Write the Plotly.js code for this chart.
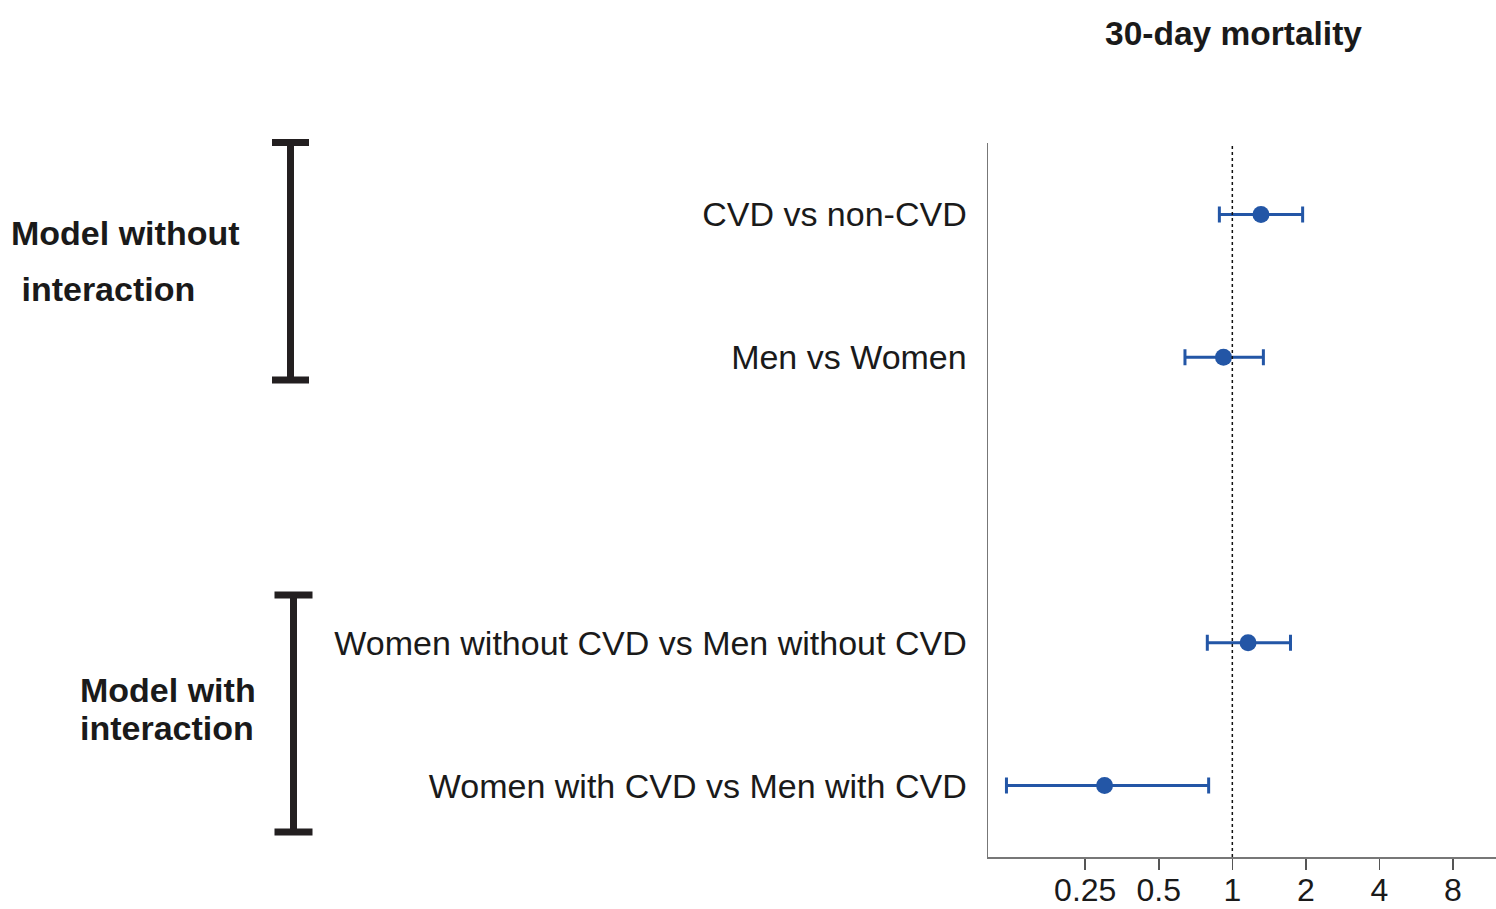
<!DOCTYPE html>
<html>
<head>
<meta charset="utf-8">
<script src="https://cdn.plot.ly/plotly-3.0.1.min.js"></script>
<style>html,body{margin:0;padding:0;background:#fff;}#chart{width:1496px;height:909px;}</style>
</head>
<body>
<div id="chart"></div>
<script>
// ---- data ----
const comparisons = ['CVD vs non-CVD', 'Men vs Women', 'Women without CVD vs Men without CVD', 'Women with CVD vs Men with CVD'];
const oddsRatio = [1.31, 0.92, 1.16, 0.30];
const ciLower = [0.885, 0.64, 0.79, 0.119];
const ciUpper = [1.94, 1.34, 1.73, 0.80];
const categoryOrder = ['Women with CVD vs Men with CVD', 'Women without CVD vs Men without CVD', ' ', 'Men vs Women', 'CVD vs non-CVD'];
const tickValues = [0.25, 0.5, 1, 2, 4, 8];
const tickLabels = ['0.25', '0.5', '1', '2', '4', '8'];
const groupLabels = ['Model without', ' interaction', 'Model with', 'interaction'];
const chartTitle = '30-day mortality';

// ---- layout helpers (pixel -> paper) ----
const W = 1496, H = 909;
const M = {l: 988, r: 0, t: 143, b: 52};
const pw = W - M.l - M.r, ph = H - M.t - M.b;
const px = x => (x - M.l) / pw;
const py = y => (H - M.b - y) / ph;

const FONT = 'Liberation Sans, Arial, Helvetica, sans-serif';
const TXT = '#1a1a1a';
const BLUE = '#2356a6';

const trace = {
  type: 'scatter',
  mode: 'markers',
  x: oddsRatio,
  y: comparisons,
  marker: {color: BLUE, size: 17},
  error_x: {
    type: 'data', symmetric: false,
    array: oddsRatio.map((v, i) => ciUpper[i] - v),
    arrayminus: oddsRatio.map((v, i) => v - ciLower[i]),
    color: BLUE, thickness: 3, width: 8
  },
  hoverinfo: 'x+y'
};

function bracket(xc, yTop, yBot, half, lw) {
  const line = {color: '#231f20', width: lw};
  return [
    {type: 'line', xref: 'paper', yref: 'paper', x0: px(xc), x1: px(xc), y0: py(yTop), y1: py(yBot), line},
    {type: 'line', xref: 'paper', yref: 'paper', x0: px(xc - half), x1: px(xc + half), y0: py(yTop), y1: py(yTop), line},
    {type: 'line', xref: 'paper', yref: 'paper', x0: px(xc - half), x1: px(xc + half), y0: py(yBot), y1: py(yBot), line}
  ];
}

const shapes = [
  {type: 'line', xref: 'x', yref: 'paper', x0: 1, x1: 1, y0: 0, y1: 1,
   line: {color: '#111', width: 1.5, dash: 'dot'}},
  ...bracket(290.5, 142.5, 380, 18.5, 7),
  ...bracket(293.5, 595, 832, 19, 7)
];

const gFont = {family: FONT, size: 34, color: TXT};
const annotations = [
  {text: '<b>' + groupLabels[0] + '</b>', x: px(9), y: py(233)},
  {text: '<b>' + groupLabels[1] + '</b>', x: px(10), y: py(289)},
  {text: '<b>' + groupLabels[2] + '</b>', x: px(78), y: py(690)},
  {text: '<b>' + groupLabels[3] + '</b>', x: px(78), y: py(728)}
].map(a => Object.assign({xref: 'paper', yref: 'paper', xanchor: 'left', yanchor: 'middle',
  showarrow: false, font: gFont}, a));

const layout = {
  width: W, height: H,
  margin: M,
  paper_bgcolor: '#fff', plot_bgcolor: '#fff',
  showlegend: false,
  font: {family: FONT, color: TXT},
  title: {
    text: '<b>' + chartTitle + '</b>',
    font: {family: FONT, size: 33.5, color: TXT},
    xref: 'paper', x: px(1233.5), xanchor: 'center',
    yref: 'container', y: 1 - 33 / H, yanchor: 'middle'
  },
  xaxis: {
    type: 'log',
    range: [-1, Math.log10(12)],
    tickvals: tickValues, ticktext: tickLabels,
    tickfont: {family: FONT, size: 32, color: TXT},
    ticks: 'outside', ticklen: 11, tickwidth: 1.5, tickcolor: '#555',
    ticklabelstandoff: -7,
    showline: true, linecolor: '#777', linewidth: 1.5,
    showgrid: false, zeroline: false, fixedrange: true
  },
  yaxis: {
    type: 'category',
    categoryorder: 'array', categoryarray: categoryOrder,
    range: [-0.5, 4.5],
    tickfont: {family: FONT, size: 34, color: TXT},
    ticks: '', ticklabelstandoff: 13,
    showline: true, linecolor: '#777', linewidth: 1.5,
    showgrid: false, zeroline: false, fixedrange: true
  },
  shapes: shapes,
  annotations: annotations
};

Plotly.newPlot('chart', [trace], layout, {displayModeBar: false, staticPlot: true});
</script>
</body>
</html>
